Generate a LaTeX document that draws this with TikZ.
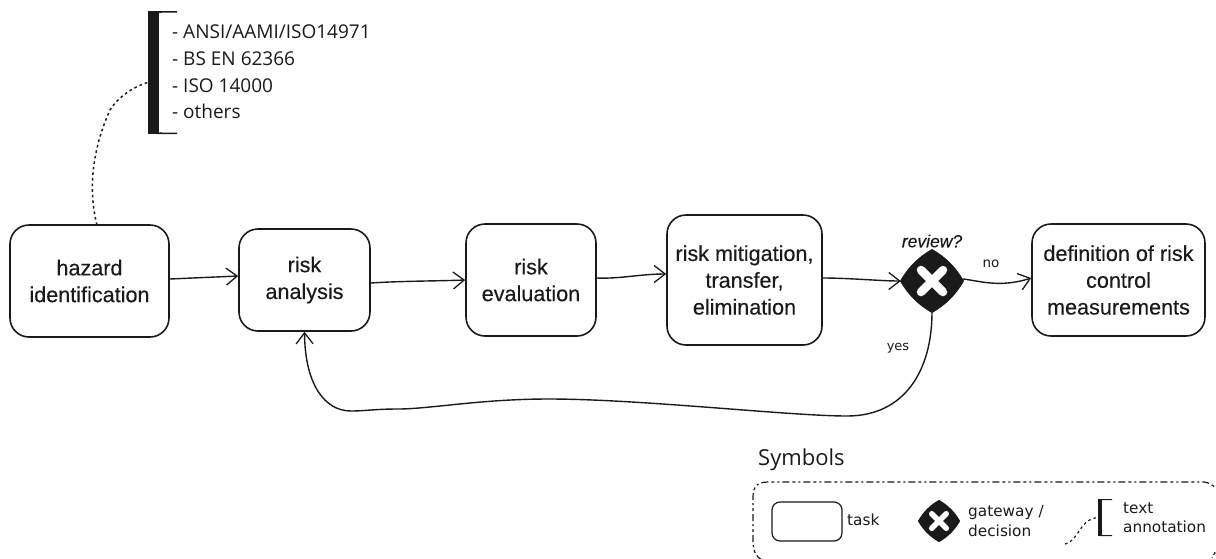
\documentclass[tikz,border=0pt]{standalone}
\usepackage{fontspec}
\setmainfont{Liberation Sans}
\newfontfamily\med[FakeBold=0.3]{Liberation Sans}
\newfontfamily\myr{Open Sans}
\newfontfamily\lab{DejaVu Sans}
\usetikzlibrary{arrows.meta,calc}
\definecolor{ink}{HTML}{1A1A1A}
\tikzset{
 x=1pt,y=-1pt,
 task/.style={draw=ink,line width=1.6pt,rounded corners=19pt,inner sep=0pt,align=center,font=\med\fontsize{21.6}{26.8}\selectfont,text=ink},
 flow/.style={draw=ink,line width=1.4pt,-{Straight Barb[length=11pt,width=17pt,line width=1.3pt]}},
 dots/.style={draw=ink,line width=1.5pt,dash pattern=on 2.6pt off 3pt},
 lbl/.style={font=\lab\fontsize{15.3}{19.5}\selectfont,text=ink,inner sep=0pt,align=left},
 bar/.style={fill=ink,inner sep=0pt},
 legendline/.style={draw=ink,line width=1.2pt,dash pattern=on 7pt off 3pt on 3pt off 3pt on 2pt off 3pt},
}
\newcommand{\gatewaymark}[2]{%
 \begin{scope}[shift={(#1)},scale=#2]
 \fill[ink] (0,-32) .. controls (14,-24) and (24,-14) .. (32,0) .. controls (24,14) and (14,24) .. (0,32) .. controls (-14,24) and (-24,14) .. (-32,0) .. controls (-24,-14) and (-14,-24) .. (0,-32) -- cycle;
 \draw[white,line width=8.5pt*#2,line cap=round] (-11,-11) -- (11,11) (-11,11) -- (11,-11);
 \end{scope}}
\begin{document}
\begin{tikzpicture}
\useasboundingbox (0,0) rectangle (1216,558);
% tasks
\node[task,minimum width=159pt,minimum height=112pt] (haz) at (89.5,281) {hazard\\identification};
\node[task,minimum width=131pt,minimum height=102pt] (ana) at (304.5,280) {risk\\analysis};
\node[task,minimum width=130pt,minimum height=112pt] (eva) at (531,280) {risk\\evaluation};
\node[task,minimum width=155pt,minimum height=130pt] (mit) at (744.5,280) {risk mitigation,\\transfer,\\elimination};
\node[task,minimum width=173pt,minimum height=112pt] (def) at (1118.5,280) {definition of risk\\control\\measurements};
% gateway
\gatewaymark{932,281}{1}
\node[minimum size=62pt,inner sep=0pt] (gw) at (932,281) {};
\node[font=\med\itshape\fontsize{17.5}{19}\selectfont,text=ink,inner sep=0pt] (rev) at (932,241) {review?};
% connectors
\draw[flow] ([yshift=2pt]haz.east) -- ([yshift=4pt]ana.west);
\draw[flow] ([yshift=-3pt]ana.east) .. controls (400,281) and (440,281) .. (eva.west);
\draw[flow] ([yshift=2pt]eva.east) .. controls (620,279) and (640,274) .. ([yshift=6pt]mit.west);
\draw[flow] ([yshift=2pt]mit.east) .. controls (850,278) and (880,281) .. (gw.west);
\draw[flow] ([yshift=2pt]gw.east) .. controls (980,281) and (1000,288) .. ([yshift=2pt]def.west);
\draw[flow] (gw.south) .. controls (932,370) and (905,416) .. (847,416)
   .. controls (790,416) and (640,399) .. (549,399)
   .. controls (480,399) and (430,409) .. (398,409)
   .. controls (375,409) and (365,411) .. (351,411)
   .. controls (325,411) and (305,385) .. (ana.south);
\node[lbl,font=\lab\fontsize{13.5}{15}\selectfont] (no) at (991,264) {no};
\node[lbl,font=\lab\fontsize{13}{15}\selectfont] (yes) at (898,348) {yes};
% annotation
\node[bar,minimum width=11pt,minimum height=123pt] (brk) at (153.5,72.5) {};
\fill[ink] (156,11) rectangle (177,12.5) (156,132.5) rectangle (177,134);
\fill[ink] (159,12) .. controls (159.5,13.5) .. (162,12.4) -- (159,12) (159,134) .. controls (159.5,132) .. (162,132.6) -- (159,134);
\node[anchor=north west,inner sep=0pt,align=left,font=\myr\fontsize{19}{26.6}\selectfont,text=ink] (anntext) at (172,25) {- ANSI/AAMI/ISO14971\\- BS EN 62366\\- ISO 14000\\- others};
\coordinate (hazTop) at (97,225);
\draw[dots] (hazTop) .. controls (88,190) and (92,150) .. (110,110) .. controls (118,97) and (133,87) .. ([yshift=-10pt]brk.west);
% legend
\node[anchor=south west,inner sep=0pt,font=\myr\fontsize{22}{24}\selectfont,text=ink] (sym) at (758,471) {Symbols};
\coordinate (l1) at (762,560);
\coordinate (l2) at (1218,482);
\draw[legendline] (l1) .. controls (755,556) and (753,550) .. (753,540) -- (753,497) .. controls (753,487) and (757,482) .. (768,482) -- (1204,482) .. controls (1212,483) and (1216,488) .. (1219,492);
\draw[ink,line width=1.2pt,dash pattern=on 3pt off 3pt] (1218,547) -- (1212,558);
\node[draw=ink,line width=1.2pt,rounded corners=8pt,minimum width=70pt,minimum height=39pt,inner sep=0pt] (t) at (807,521.5) {};
\node[lbl,anchor=west] (tl) at (847,520) {task};
\gatewaymark{939,521}{0.66}
\node[lbl,anchor=west] (gl) at (968,521) {gateway /\\decision};
\node[bar,minimum width=4pt,minimum height=37pt] (b2) at (1100,517.5) {};
\fill[ink] (1100,499) rectangle (1112,500) (1100,535) rectangle (1112,536);
\node[lbl,anchor=west] (al) at (1123,517.5) {text\\annotation};
\coordinate (an) at (1065,544);
\draw[dots,line width=1.2pt] (an) .. controls (1080,540) and (1078,520) .. (b2.west);
\end{tikzpicture}
\end{document}
